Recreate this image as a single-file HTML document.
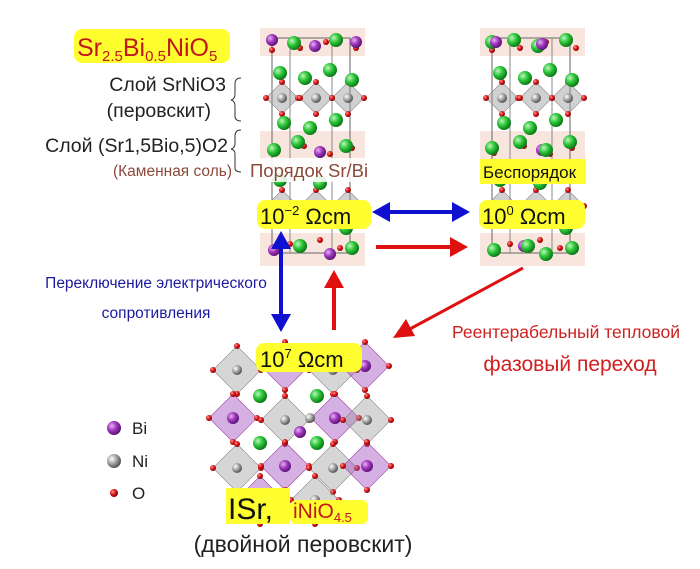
<!DOCTYPE html>
<html><head><meta charset="utf-8"><style>
html,body{margin:0;padding:0;background:#fff}
svg{display:block}
text{font-family:"Liberation Sans",sans-serif}
</style></head><body>
<svg width="700" height="569" viewBox="0 0 700 569" xmlns="http://www.w3.org/2000/svg">
<defs>
<radialGradient id="gG" cx="35%" cy="35%" r="65%"><stop offset="0" stop-color="#bff5bf"/><stop offset="0.5" stop-color="#2ec83a"/><stop offset="1" stop-color="#0d7a18"/></radialGradient>
<radialGradient id="gP" cx="35%" cy="35%" r="65%"><stop offset="0" stop-color="#e6b6f0"/><stop offset="0.5" stop-color="#a33ac0"/><stop offset="1" stop-color="#5e1578"/></radialGradient>
<radialGradient id="gN" cx="35%" cy="35%" r="65%"><stop offset="0" stop-color="#fff"/><stop offset="0.5" stop-color="#aaa"/><stop offset="1" stop-color="#555"/></radialGradient>
<radialGradient id="gR" cx="35%" cy="35%" r="65%"><stop offset="0" stop-color="#ff9a9a"/><stop offset="0.5" stop-color="#dd1a1a"/><stop offset="1" stop-color="#8a0000"/></radialGradient>
<g id="G"><circle r="7" fill="url(#gG)"/></g>
<g id="P"><circle r="6" fill="url(#gP)"/></g>
<g id="N"><circle r="5" fill="url(#gN)"/></g>
<g id="O"><circle r="3" fill="url(#gR)"/></g>
<g id="oct"><polygon points="0,-16 16,0 0,16 -16,0" fill="#9a9a9a" fill-opacity="0.45" stroke="#888" stroke-width="0.6"/><use href="#N"/><use href="#O" x="0" y="-16"/><use href="#O" x="16" y="0"/><use href="#O" x="-16" y="0"/><use href="#O" x="0" y="16"/></g>
<g id="poct"><polygon points="0,-24 24,0 0,24 -24,0" fill="#a050c0" fill-opacity="0.45" stroke="#a040a0" stroke-width="0.6"/><use href="#P"/><use href="#O" x="0" y="-24"/><use href="#O" x="24" y="0"/><use href="#O" x="-24" y="0"/><use href="#O" x="0" y="24"/></g>
<g id="goct"><polygon points="0,-24 24,0 0,24 -24,0" fill="#999" fill-opacity="0.4" stroke="#888" stroke-width="0.6"/><use href="#N"/><use href="#O" x="0" y="-24"/><use href="#O" x="24" y="0"/><use href="#O" x="-24" y="0"/><use href="#O" x="0" y="24"/></g>
<g id="cell">
<rect x="0" y="0" width="105" height="238" fill="#fff"/>
<rect x="0" y="0" width="105" height="28" fill="#f8e6de"/>
<rect x="0" y="103" width="105" height="36" fill="#f8e6de"/>
<rect x="0" y="205" width="105" height="33" fill="#f8e6de"/>
<rect x="12" y="10" width="78" height="215" fill="none" stroke="#666" stroke-width="1"/>
<line x1="30" y1="10" x2="30" y2="225" stroke="#888"/><line x1="72" y1="10" x2="72" y2="225" stroke="#888"/>
<use href="#oct" x="22" y="70"/><use href="#oct" x="56" y="70"/><use href="#oct" x="88" y="70"/>
<use href="#oct" x="22" y="178"/><use href="#oct" x="56" y="178"/><use href="#oct" x="88" y="178"/>
<use href="#G" x="20" y="45"/><use href="#G" x="45" y="50"/><use href="#G" x="70" y="42"/><use href="#G" x="92" y="52"/>
<use href="#G" x="24" y="95"/><use href="#G" x="50" y="100"/><use href="#G" x="76" y="92"/>
<use href="#G" x="20" y="152"/><use href="#G" x="60" y="155"/><use href="#G" x="86" y="200"/>
<use href="#O" x="12" y="22"/><use href="#O" x="40" y="20"/><use href="#O" x="66" y="14"/><use href="#O" x="96" y="20"/>
<use href="#O" x="14" y="125"/><use href="#O" x="44" y="118"/><use href="#O" x="70" y="126"/><use href="#O" x="92" y="120"/>
<use href="#O" x="30" y="216"/><use href="#O" x="60" y="212"/><use href="#O" x="80" y="220"/>
</g>
</defs>

<g transform="translate(260,28)"><use href="#cell"/>
<use href="#P" x="12" y="12"/><use href="#G" x="34" y="15"/><use href="#P" x="55" y="18"/><use href="#G" x="76" y="12"/><use href="#P" x="96" y="14"/>
<use href="#G" x="14" y="122"/><use href="#G" x="38" y="114"/><use href="#P" x="60" y="124"/><use href="#G" x="86" y="118"/>
<use href="#P" x="14" y="222"/><use href="#G" x="40" y="218"/><use href="#P" x="70" y="226"/><use href="#G" x="92" y="220"/>
</g>
<g transform="translate(480,28)"><use href="#cell"/>
<use href="#G" x="12" y="14"/><use href="#P" x="16" y="14"/><use href="#G" x="34" y="12"/><use href="#G" x="58" y="18"/><use href="#P" x="62" y="16"/><use href="#G" x="86" y="12"/>
<use href="#G" x="12" y="120"/><use href="#G" x="40" y="114"/><use href="#P" x="62" y="122"/><use href="#G" x="66" y="122"/><use href="#G" x="90" y="114"/>
<use href="#G" x="14" y="222"/><use href="#P" x="44" y="218"/><use href="#G" x="48" y="218"/><use href="#G" x="66" y="226"/><use href="#G" x="92" y="220"/>
</g>

<g transform="translate(205,338)">
<use href="#goct" x="32" y="32"/><use href="#poct" x="80" y="28"/><use href="#goct" x="128" y="32"/><use href="#poct" x="160" y="28"/>
<use href="#poct" x="28" y="80"/><use href="#goct" x="80" y="82"/><use href="#poct" x="130" y="80"/><use href="#goct" x="162" y="82"/>
<use href="#goct" x="32" y="130"/><use href="#poct" x="80" y="128"/><use href="#goct" x="128" y="130"/><use href="#poct" x="162" y="128"/>
<use href="#poct" x="55" y="162"/><use href="#goct" x="110" y="162"/>
<use href="#G" x="55" y="58"/><use href="#G" x="112" y="58"/><use href="#G" x="55" y="105"/><use href="#G" x="112" y="105"/>
<use href="#N" x="105" y="80"/><use href="#P" x="95" y="94"/>
</g>

<rect x="74" y="29" width="156" height="34" rx="8" fill="#ffff30"/>
<text x="77" y="56" font-size="25" fill="#c0181b">Sr<tspan font-size="15" dy="5">2.5</tspan><tspan dy="-5">Bi</tspan><tspan font-size="15" dy="5">0.5</tspan><tspan dy="-5">NiO</tspan><tspan font-size="15" dy="5">5</tspan></text>

<text x="226" y="91" font-size="19.5" text-anchor="end" fill="#222">Слой SrNiO3</text>
<text x="211" y="117" font-size="19.5" text-anchor="end" fill="#222">(перовскит)</text>
<path d="M241,78 q-6,0 -6,6 v10 q0,5 -4,6 q4,1 4,6 v10 q0,5 6,5" fill="none" stroke="#333" stroke-width="1"/>
<text x="228" y="152" font-size="19.5" text-anchor="end" fill="#222">Слой (Sr1,5Bio,5)O2</text>
<path d="M241,130 q-6,0 -6,6 v8 q0,4 -4,5 q4,1 4,5 v14 q0,4 6,4" fill="none" stroke="#333" stroke-width="1"/>
<text x="232" y="176" font-size="15.5" text-anchor="end" fill="#8b4a3a">(Каменная соль)</text>
<rect x="246" y="158" width="140" height="24" fill="#fff" fill-opacity="0.85"/>
<text x="250" y="177" font-size="18.5" fill="#8b4a3a">Порядок Sr/Bi</text>

<rect x="480" y="159" width="106" height="25" fill="#ffff30"/>
<text x="483" y="178" font-size="17" fill="#111">Беспорядок</text>

<rect x="257" y="200" width="114" height="29" rx="8" fill="#ffff30"/>
<text x="260" y="224" font-size="22" fill="#111">10<tspan font-size="13" dy="-9">−2</tspan><tspan dy="9"> Ωcm</tspan></text>
<rect x="479" y="200" width="106" height="29" rx="8" fill="#ffff30"/>
<text x="482" y="224" font-size="22" fill="#111">10<tspan font-size="13" dy="-9">0</tspan><tspan dy="9"> Ωcm</tspan></text>
<rect x="256" y="343" width="106" height="29" rx="8" fill="#ffff30"/>
<text x="260" y="367" font-size="22" fill="#111">10<tspan font-size="13" dy="-9">7</tspan><tspan dy="9"> Ωcm</tspan></text>

<g fill="#1010d0" stroke="#1010d0">
<line x1="385" y1="212" x2="458" y2="212" stroke-width="4"/>
<polygon points="372,212 390,202 390,222" stroke="none"/><polygon points="470,212 452,202 452,222" stroke="none"/>
<line x1="281" y1="245" x2="281" y2="318" stroke-width="4"/>
<polygon points="281,231 271,249 291,249" stroke="none"/><polygon points="281,332 271,314 291,314" stroke="none"/>
</g>
<g fill="#e01010" stroke="#e01010">
<line x1="376" y1="247" x2="455" y2="247" stroke-width="4"/><polygon points="468,247 450,237 450,257" stroke="none"/>
<line x1="334" y1="330" x2="334" y2="285" stroke-width="4"/><polygon points="334,270 324,288 344,288" stroke="none"/>
<line x1="523" y1="268" x2="408" y2="330" stroke-width="3"/><polygon points="393,338 406,319 415,336" stroke="none"/>
</g>

<text x="156" y="288" font-size="15.5" text-anchor="middle" fill="#1a1aa0">Переключение электрического</text>
<text x="156" y="318" font-size="15.5" text-anchor="middle" fill="#1a1aa0">сопротивления</text>
<text x="566" y="338" font-size="17.5" text-anchor="middle" fill="#d02020">Реентерабельный тепловой</text>
<text x="570" y="371" font-size="21" text-anchor="middle" fill="#d02020">фазовый переход</text>

<circle cx="114" cy="428" r="7" fill="url(#gP)"/><text x="132" y="434" font-size="17" fill="#222">Bi</text>
<circle cx="114" cy="461" r="7" fill="url(#gN)"/><text x="132" y="467" font-size="17" fill="#222">Ni</text>
<circle cx="114" cy="493" r="4" fill="url(#gR)"/><text x="132" y="499" font-size="17" fill="#222">O</text>

<rect x="226" y="488" width="64" height="36" fill="#ffff30"/>
<rect x="290" y="500" width="78" height="24" rx="6" fill="#ffff30"/>
<text x="228" y="519" font-size="30" fill="#111">ISr,</text>
<text x="293" y="518" font-size="21" fill="#c0181b">iNiO<tspan font-size="13" dy="4">4.5</tspan></text>
<text x="303" y="552" font-size="23" text-anchor="middle" fill="#222">(двойной перовскит)</text>
</svg>
</body></html>
